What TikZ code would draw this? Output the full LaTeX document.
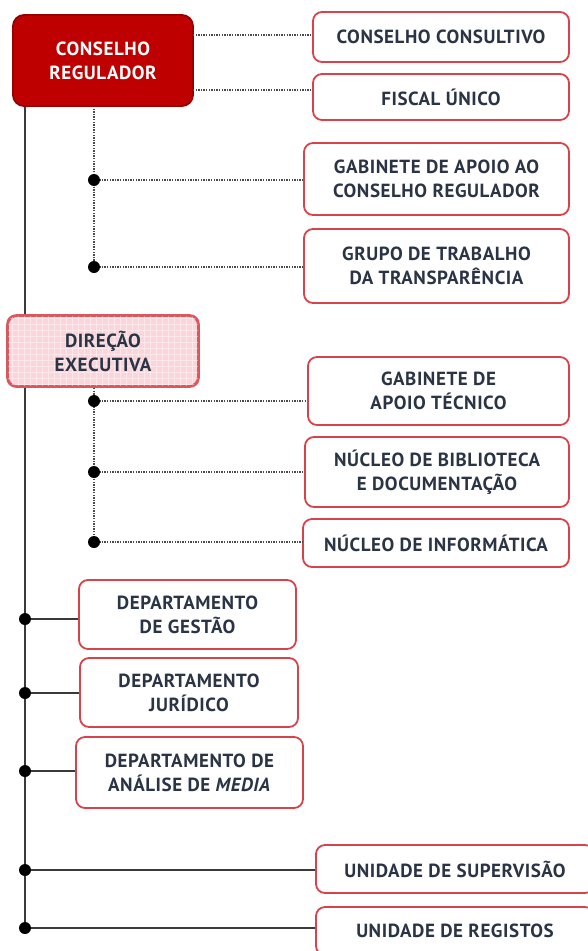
\documentclass[tikz,border=0pt]{standalone}
\usepackage{fontspec}
\setmainfont{PT Sans}
\newfontfamily\labfont[LetterSpace=3]{PT Sans}
\definecolor{boxred}{HTML}{D8434B}
\definecolor{crred}{HTML}{BE0000}
\definecolor{txt}{HTML}{2B3445}
\definecolor{dotgray}{HTML}{4A4A4A}
\definecolor{linegray}{HTML}{3A3A3A}
\definecolor{depink}{HTML}{FAD6DA}
\newcommand{\lab}{\labfont\bfseries\fontsize{19}{24}\selectfont}
\tikzset{
  box/.style={draw=boxred, line width=1.8pt, rounded corners=9pt, fill=white, text=txt, font=\lab, align=center, inner sep=0pt},
  dotline/.style={draw=dotgray, line width=2pt, dash pattern=on 1.3pt off 1.3pt},
  mainline/.style={draw=linegray, line width=2.8pt},
  solidline/.style={draw=linegray, line width=2.6pt},
  jdot/.style={circle, fill=black, inner sep=0pt, minimum size=12pt},
}
\begin{document}
\begin{tikzpicture}[x=1pt,y=-1pt]
\useasboundingbox (0,0) rectangle (588,951);
% coordinates
\coordinate (mtop) at (25,106);
\coordinate (mbot) at (25,928);
\coordinate (c1) at (193,35);
\coordinate (f1) at (193,90);
\coordinate (v1top) at (94,106);
\coordinate (v1a) at (94,180);
\coordinate (v1b) at (94,267);
\coordinate (v2top) at (94,388);
\coordinate (v2a) at (94,401);
\coordinate (v2b) at (94,472);
\coordinate (v2c) at (94,542);
\coordinate (j1) at (25,619);
\coordinate (j2) at (25,693);
\coordinate (j3) at (25,771);
\coordinate (j4) at (25,870);
\coordinate (j5) at (25,928);
% main line and dotted lines
\draw[mainline] (mtop) -- (mbot);
\draw[dotline] (v1top) -- (v1b);
\draw[dotline] (v2top) -- (v2c);
% nodes
\node[box, draw=crred!80!black, fill=crred, text=white, minimum width=180pt, minimum height=91pt, rounded corners=11pt] (cr) at (103,60.5) {CONSELHO\\REGULADOR};
\node[box, minimum width=256pt, minimum height=50pt] (cc) at (441,37) {CONSELHO CONSULTIVO};
\node[box, minimum width=256pt, minimum height=46pt] (fu) at (441,97) {FISCAL ÚNICO};
\node[box, minimum width=265pt, minimum height=72pt] (gab) at (436.5,179) {GABINETE DE APOIO AO\\CONSELHO REGULADOR};
\node[box, minimum width=265pt, minimum height=74pt] (gt) at (436.5,266) {GRUPO DE TRABALHO\\DA TRANSPARÊNCIA};
\node[box, fill=depink, draw=boxred!90!white, minimum width=190pt, minimum height=70pt] (de) at (103,351) {};
\begin{scope}
  \clip[rounded corners=9pt] (de.south west) rectangle (de.north east);
  \draw[white, opacity=0.45, line width=0.6pt, step=6pt] (de.south west) grid (de.north east);
\end{scope}
\draw[draw=boxred!90!white, line width=1.8pt, rounded corners=9pt] (de.south west) rectangle (de.north east);
\node[font=\lab, text=txt, align=center] (detext) at (de.center) {DIREÇÃO\\EXECUTIVA};
\node[box, minimum width=261pt, minimum height=68pt] (gat) at (438.5,391) {GABINETE DE\\APOIO TÉCNICO};
\node[box, minimum width=264pt, minimum height=70pt] (nbd) at (437,472) {NÚCLEO DE BIBLIOTECA\\E DOCUMENTAÇÃO};
\node[box, minimum width=266pt, minimum height=48pt] (ni) at (436,543) {NÚCLEO DE INFORMÁTICA};
\node[box, minimum width=217pt, minimum height=69pt] (dg) at (187.5,614.5) {DEPARTAMENTO\\DE GESTÃO};
\node[box, minimum width=218pt, minimum height=69pt] (dj) at (189,692.5) {DEPARTAMENTO\\JURÍDICO};
\node[box, minimum width=227pt, minimum height=71pt] (dam) at (189.5,772.5) {DEPARTAMENTO DE\\ANÁLISE DE \textit{MEDIA}};
\node[box, minimum width=278pt, minimum height=48pt] (us) at (455,869) {UNIDADE DE SUPERVISÃO};
\node[box, minimum width=278pt, minimum height=48pt] (ur) at (455,931) {UNIDADE DE REGISTOS};
% connectors
\draw[dotline] (c1) -- (c1 -| cc.west);
\draw[dotline] (f1) -- (f1 -| fu.west);
\draw[dotline] (v1a) -- (v1a -| gab.west);
\draw[dotline] (v1b) -- (v1b -| gt.west);
\draw[dotline] (v2a) -- (v2a -| gat.west);
\draw[dotline] (v2b) -- (v2b -| nbd.west);
\draw[dotline] (v2c) -- (v2c -| ni.west);
\draw[solidline] (j1) -- (j1 -| dg.west);
\draw[solidline] (j2) -- (j2 -| dj.west);
\draw[solidline] (j3) -- (j3 -| dam.west);
\draw[solidline] (j4) -- (j4 -| us.west);
\draw[solidline] (j5) -- (j5 -| ur.west);
% junction dots
\foreach \p in {v1a,v1b,v2a,v2b,v2c,j1,j2,j3,j4,j5} \node[jdot] at (\p) {};
\end{tikzpicture}
\end{document}
